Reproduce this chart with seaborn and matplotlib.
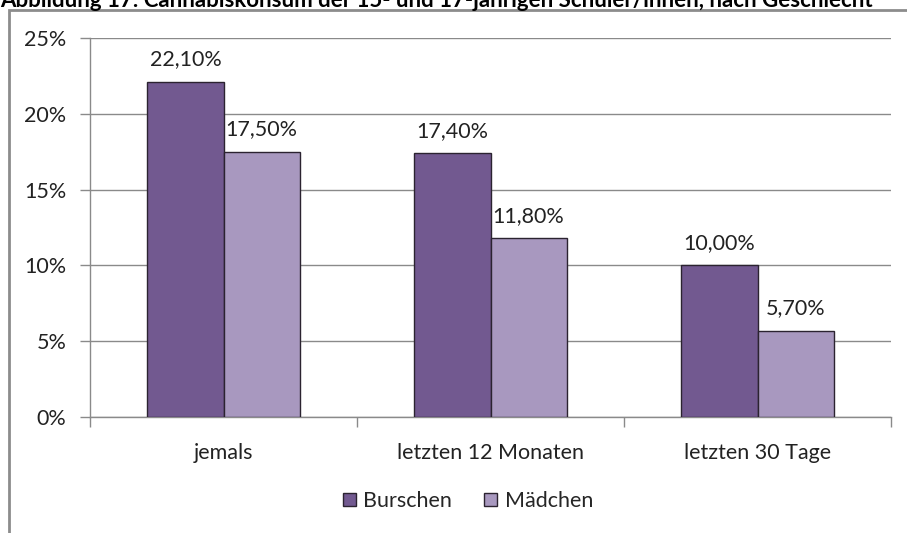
import numpy as np
import pandas as pd
import matplotlib
matplotlib.use("Agg")
import matplotlib.pyplot as plt
import seaborn as sns
from matplotlib.patches import Rectangle
from matplotlib.ticker import FuncFormatter, FixedLocator

categories = ["jemals", "letzten 12 Monaten", "letzten 30 Tage"]
groups = ["Burschen", "Mädchen"]
burschen = [0.221, 0.174, 0.100]
maedchen = [0.175, 0.118, 0.057]

df = pd.DataFrame({
    "Zeitraum": categories * 2,
    "Geschlecht": [groups[0]] * 3 + [groups[1]] * 3,
    "Anteil": burschen + maedchen,
})

sns.set_theme(style="white")
plt.rcParams["font.family"] = ["Lato", "DejaVu Sans"]

fig = plt.figure(figsize=(9.07, 5.33), dpi=100)
W, H = 907, 533
ax = fig.add_axes([90 / W, (H - 417) / H, 801 / W, 379 / H])

palette = {"Burschen": "#725990", "Mädchen": "#A898BF"}
sns.barplot(data=df, x="Zeitraum", y="Anteil", hue="Geschlecht", order=categories,
            hue_order=groups, palette=palette, width=0.57, gap=0, saturation=1,
            edgecolor="#2b2330", linewidth=1.0, ax=ax, zorder=3)

# Datenbeschriftung
for cont in ax.containers:
    ax.bar_label(cont, labels=[f"{v*100:.2f}%".replace(".", ",") for v in cont.datavalues],
                 padding=9, fontsize=15.5, color="#222222")

ax.set_xlim(-0.5, 2.5)
ax.set_ylim(0, 0.25)
ax.yaxis.set_major_locator(FixedLocator(np.arange(0, 0.26, 0.05)))
ax.yaxis.set_major_formatter(FuncFormatter(lambda v, p: f"{v*100:.0f}%"))
ax.grid(axis="y", color="#8a8a8a", linewidth=1, zorder=0)
ax.set_axisbelow(True)

ax.xaxis.set_minor_locator(FixedLocator([-0.5, 0.5, 1.5, 2.5]))
ax.tick_params(axis="x", which="major", length=0, pad=19, labelsize=15.5, labelcolor="#222222")
ax.tick_params(axis="x", which="minor", length=7, width=1, color="#8a8a8a", direction="out", bottom=True)
ax.tick_params(axis="y", which="major", length=7, width=1, color="#8a8a8a", direction="out", left=True,
               pad=10, labelsize=15.5, labelcolor="#222222")

for side in ["top", "right"]:
    ax.spines[side].set_visible(False)
for side in ["left", "bottom"]:
    ax.spines[side].set_color("#8a8a8a")
    ax.spines[side].set_linewidth(1)

ax.set_xlabel("")
ax.set_ylabel("")

ax.legend(loc="center", bbox_to_anchor=(468 / W, (H - 501) / H), bbox_transform=fig.transFigure,
          ncol=2, frameon=False, fontsize=15.5, handlelength=0.6, handleheight=0.6,
          handletextpad=0.35, columnspacing=1.5, borderpad=0)

# äußerer Diagrammrahmen
fig.patches.append(Rectangle((9 / W, -0.05), 1.0, 1 - 10 / H + 0.05, transform=fig.transFigure,
                             fill=False, edgecolor="#8c8c8c", linewidth=2))

fig.text(0.0, 1 - 7 / H, "Abbildung 17: Cannabiskonsum der 15- und 17-jährigen Schüler/innen, nach Geschlecht",
         fontsize=16, fontweight="bold", ha="left", va="baseline", color="black")

fig.savefig("out.png", dpi=100)
